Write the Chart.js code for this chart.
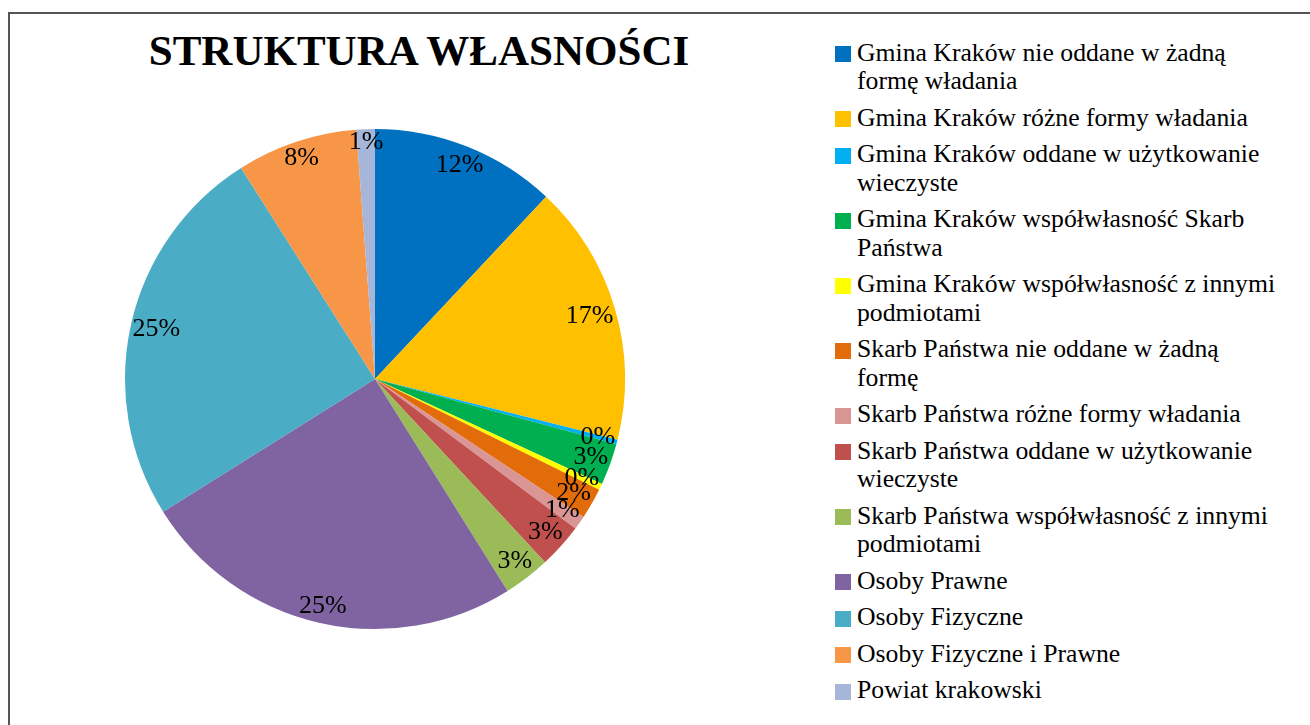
<!DOCTYPE html>
<html>
<head>
<meta charset="utf-8">
<script src="https://cdn.jsdelivr.net/npm/chart.js@4.4.1/dist/chart.umd.min.js"></script>
<style>
  html, body { margin: 0; padding: 0; background: #fff; overflow: hidden; }
  body { width: 1310px; height: 725px; position: relative; font-family: "Liberation Serif", "Times New Roman", serif; }
  #frame { position: absolute; left: 8px; top: 12px; width: 1400px; height: 800px; border: 2px solid #555; box-sizing: border-box; }
  #title { position: absolute; left: 0; width: 838px; top: 25px; text-align: center; font-size: 43px; font-weight: bold; line-height: 52px; color: #000; }
  #pieBox { position: absolute; left: 115px; top: 119px; width: 520px; height: 520px; }
  #legend { position: absolute; left: 835px; top: 38.5px; font-size: 25.7px; line-height: 28.5px; color: #000; }
  .item { display: flex; align-items: flex-start; margin-bottom: 8px; }
  .box { width: 16px; height: 16px; margin-top: 7.5px; margin-right: 6px; flex: none; }
</style>
</head>
<body>
<div id="frame"></div>
<div id="title">STRUKTURA WŁASNOŚCI</div>
<div id="pieBox"><canvas id="pie"></canvas></div>
<div id="legend"></div>
<script>
// categories (wrapped the way the legend shows them)
var categories = [
  ['Gmina Kraków nie oddane w żadną', 'formę władania'],
  'Gmina Kraków różne formy władania',
  ['Gmina Kraków oddane w użytkowanie', 'wieczyste'],
  ['Gmina Kraków współwłasność Skarb', 'Państwa'],
  ['Gmina Kraków współwłasność z innymi', 'podmiotami'],
  ['Skarb Państwa nie oddane w żadną', 'formę'],
  'Skarb Państwa różne formy władania',
  ['Skarb Państwa oddane w użytkowanie', 'wieczyste'],
  ['Skarb Państwa współwłasność z innymi', 'podmiotami'],
  'Osoby Prawne',
  'Osoby Fizyczne',
  'Osoby Fizyczne i Prawne',
  'Powiat krakowski'
];
// share of area, %
var shares = [12.0, 16.9, 0.3, 2.7, 0.4, 2.0, 0.9, 2.9, 3.0, 25.0, 24.9, 7.8, 1.2];
var sliceColors = ['#0070C0', '#FFC000', '#00B0F0', '#00B050', '#FFFF00', '#E36C0A', '#D99694',
                   '#C0504D', '#9BBB59', '#8064A2', '#4BACC6', '#F79646', '#A5B6D8'];

var labelFont = '26px "Liberation Serif"';

// percent labels at the inner side of the rim, like Excel "inside end"
const insideEndLabels = {
  id: 'insideEndLabels',
  afterDatasetsDraw(chart) {
    const ctx = chart.ctx;
    const meta = chart.getDatasetMeta(0);
    const data = chart.data.datasets[0].data;
    const total = data.reduce((a, b) => a + b, 0);
    ctx.save();
    ctx.font = labelFont;
    ctx.fillStyle = '#000';
    ctx.textAlign = 'center';
    ctx.textBaseline = 'middle';
    meta.data.forEach((arc, i) => {
      const p = arc.getProps(['x', 'y', 'startAngle', 'endAngle', 'outerRadius'], true);
      const mid = (p.startAngle + p.endAngle) / 2;
      const txt = Math.round(data[i] / total * 100) + '%';
      const hw = ctx.measureText(txt).width / 2;
      const hh = 12;
      const r = p.outerRadius - (hw * Math.abs(Math.cos(mid)) + hh * Math.abs(Math.sin(mid)));
      ctx.fillText(txt, p.x + r * Math.cos(mid), p.y + r * Math.sin(mid));
    });
    ctx.restore();
  }
};

function build() {
  const pieChart = new Chart(document.getElementById('pie'), {
    type: 'pie',
    data: {
      labels: categories,
      datasets: [{
        data: shares,
        backgroundColor: sliceColors,
        borderWidth: 0
      }]
    },
    options: {
      responsive: true,
      maintainAspectRatio: false,
      animation: false,
      layout: { padding: 10 },
      plugins: {
        legend: { display: false },
        tooltip: { enabled: false },
        title: { display: false }
      }
    },
    plugins: [insideEndLabels]
  });

  // legend built from the chart's own labels and colours
  var legendEl = document.getElementById('legend');
  pieChart.data.labels.forEach(function (lab, i) {
    var item = document.createElement('div');
    item.className = 'item';
    var box = document.createElement('span');
    box.className = 'box';
    box.style.background = sliceColors[i];
    var text = document.createElement('span');
    text.innerHTML = (Array.isArray(lab) ? lab : [lab]).join('<br>');
    item.appendChild(box);
    item.appendChild(text);
    legendEl.appendChild(item);
  });
}

document.fonts.load(labelFont).then(build, build);
</script>
</body>
</html>
